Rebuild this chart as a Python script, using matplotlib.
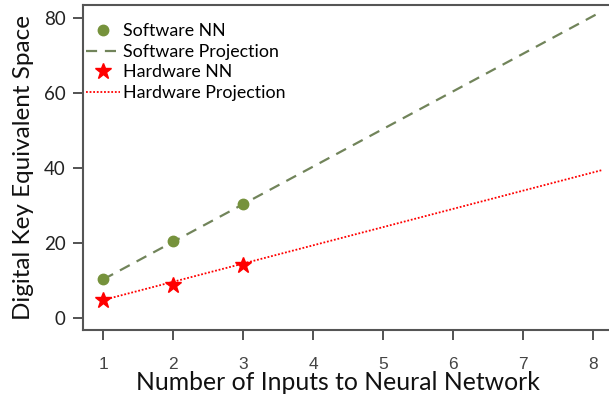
import matplotlib
matplotlib.use("Agg")
import matplotlib.pyplot as plt

# Measured key-space equivalents
inputs = [1, 2, 3]
software_nn = [10.4, 20.6, 30.5]
hardware_nn = [5.0, 8.9, 14.1]

# Linear projections out to larger networks (endpoints)
proj_inputs = [1, 8.12]
software_proj = [10.4, 81.8]
hardware_proj = [4.9, 39.5]

x_ticks = [1, 2, 3, 4, 5, 6, 7, 8]
y_ticks = [0, 20, 40, 60, 80]

W, H = 609, 404
fig = plt.figure(figsize=(W / 100, H / 100), dpi=100)
left, right, top, bottom = 83, 609, 4.7, 330
ax = fig.add_axes([left / W, (H - bottom) / H, (right - left) / W, (bottom - top) / H])

green_pt = "#76923c"
green_ln = "#71845a"
red = "#ff0000"

ax.plot(proj_inputs, software_proj, linestyle=(0, (5, 3.5)), color=green_ln, lw=1.6,
        label="Software Projection", zorder=2)
ax.plot(proj_inputs, hardware_proj, linestyle=(0, (1, 1)), color=red, lw=1.3,
        label="Hardware Projection", zorder=2)
ax.plot(inputs, software_nn, "o", color=green_pt, ms=7.5, linestyle="none",
        label="Software NN", zorder=3)
ax.plot(inputs, hardware_nn, "*", color=red, ms=12, linestyle="none",
        label="Hardware NN", zorder=3)

ax.set_xlim(0.71, 8.224)
ax.set_ylim(-3.1, 83.6)
ax.set_xticks(x_ticks)
ax.set_yticks(y_ticks)

spine_col = "#555555"
for s in ["left", "bottom", "top"]:
    ax.spines[s].set_color(spine_col)
    ax.spines[s].set_linewidth(1.5)
ax.spines["right"].set_visible(False)

ax.tick_params(axis="both", direction="out", length=7.5, width=1.3, color="#444444")
ax.tick_params(axis="x", pad=12, labelsize=12.5, labelcolor="#444444")
ax.tick_params(axis="y", pad=5, labelsize=13.5, labelcolor="#222222")
for lab in ax.get_xticklabels():
    lab.set_family("Liberation Sans")
for lab in ax.get_yticklabels():
    lab.set_family("Lato")

ax.set_xlabel("Number of Inputs to Neural Network", fontsize=17.8, family="Lato",
              color="#111111", labelpad=1)
ax.xaxis.set_label_coords(0.485, -0.125)
ax.set_ylabel("Digital Key Equivalent Space", fontsize=17.5, family="Lato",
              color="#111111", labelpad=7)

handles, labels = ax.get_legend_handles_labels()
order = [2, 0, 3, 1]
ax.legend([handles[i] for i in order], [labels[i] for i in order],
          loc="upper left", bbox_to_anchor=(-0.015, 0.975), frameon=False,
          prop={"family": "Lato", "size": 12.8}, handlelength=1.9,
          handletextpad=0.2, labelspacing=0.25, borderaxespad=0.2)

fig.savefig("out.png", dpi=100, facecolor="white")
